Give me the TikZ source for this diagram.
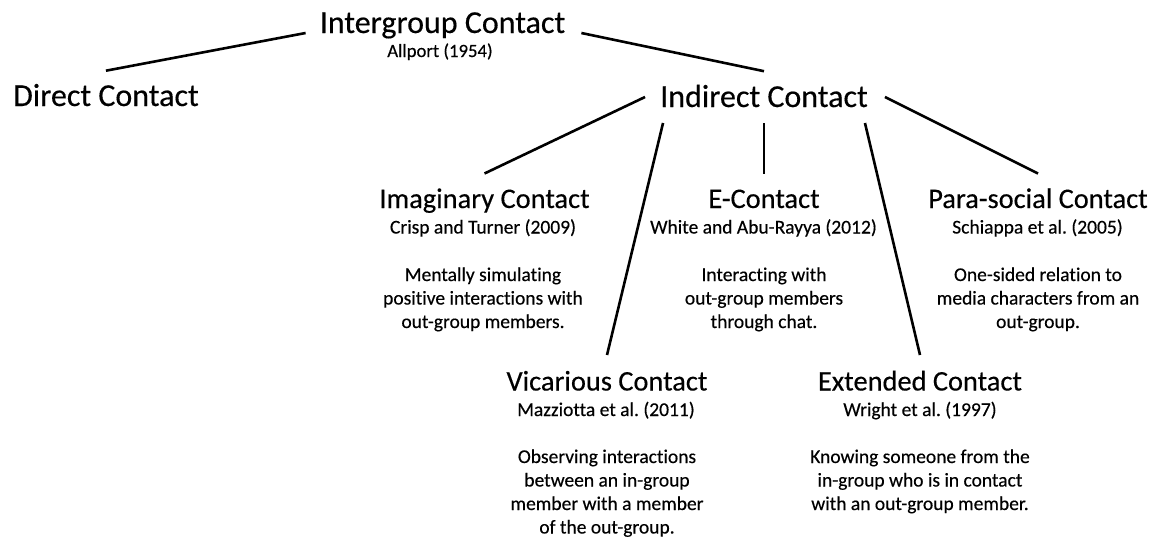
\documentclass[tikz,border=0pt]{standalone}
\usepackage{fontspec}
\setmainfont{Carlito}[Ligatures=NoCommon, FakeBold=0.35]
\frenchspacing
\begin{document}
\begin{tikzpicture}[x=1pt,y=-1pt,
  every node/.style={inner sep=0pt, anchor=base},
  head/.style={font=\fontsize{32}{38}\selectfont, text height=20.6pt},
  title/.style={font=\fontsize{28.4}{34}\selectfont, text height=18.3pt},
  cite/.style={font=\fontsize{19.5}{23.5}\selectfont},
  desc/.style={font=\fontsize{19.5}{23.5}\selectfont},
  link/.style={line width=2.6pt}]
\useasboundingbox (0,0) rectangle (1154,538);

% root and first level
\node[head] (inter) at (442.5,33) {Intergroup Contact};
\node[cite, font=\fontsize{18.7}{22}\selectfont] (allport) at (440,57) {Allport (1954)};
\node[head, anchor=base west] (direct) at (13,106) {Direct Contact};
\node[head] (indirect) at (764,107) {Indirect Contact};

% forms of indirect contact, upper row
\node[title] (imag) at (484.5,208) {Imaginary Contact};
\node[cite] (imagc) at (483,233.5) {Crisp and Turner (2009)};
\node[desc] (imagd) at (483,281) {\begin{tabular}[t]{@{}c@{}}Mentally simulating\\positive interactions with\\out-group members.\end{tabular}};

\node[title] (econ) at (764,208) {E-Contact};
\node[cite] (econc) at (763.5,233.5) {White and Abu-Rayya (2012)};
\node[desc] (econd) at (764,281) {\begin{tabular}[t]{@{}c@{}}Interacting with\\out-group members\\through chat.\end{tabular}};

\node[title] (para) at (1038,208) {Para-social Contact};
\node[cite] (parac) at (1037.5,233.5) {Schiappa et al. (2005)};
\node[desc] (parad) at (1038,281) {\begin{tabular}[t]{@{}c@{}}One-sided relation to\\media characters from an\\out-group.\end{tabular}};

% forms of indirect contact, lower row
\node[title] (vic) at (607,390.5) {Vicarious Contact};
\node[cite] (vicc) at (606,416) {Mazziotta et al. (2011)};
\node[desc] (vicd) at (607,463) {\begin{tabular}[t]{@{}c@{}}Observing interactions\\between an in-group\\member with a member\\of the out-group.\end{tabular}};

\node[title] (ext) at (920,390.5) {Extended Contact};
\node[cite] (extc) at (920,416) {Wright et al. (1997)};
\node[desc] (extd) at (920,463) {\begin{tabular}[t]{@{}c@{}}Knowing someone from the\\in-group who is in contact\\with an out-group member.\end{tabular}};

% tree connectors
\draw[link] ([xshift=-14pt]inter.base west) -- ([yshift=14.5pt]direct.north);
\draw[link] ([xshift=16pt]inter.base east) -- ([yshift=15pt]indirect.north);
\draw[link] ([shift={(-15pt,10pt)}]indirect.base west) -- ([yshift=16pt]imag.north);
\draw[link] ([shift={(17pt,10pt)}]indirect.base east) -- ([yshift=16pt]para.north);
\draw[link] ([shift={(3pt,-16pt)}]indirect.base west) -- ([yshift=17pt]vic.north);
\draw[link] ([yshift=-16pt]indirect.base) -- ([yshift=16pt]econ.north);
\draw[link] ([shift={(-3pt,-16pt)}]indirect.base east) -- ([yshift=17pt]ext.north);
\end{tikzpicture}
\end{document}
